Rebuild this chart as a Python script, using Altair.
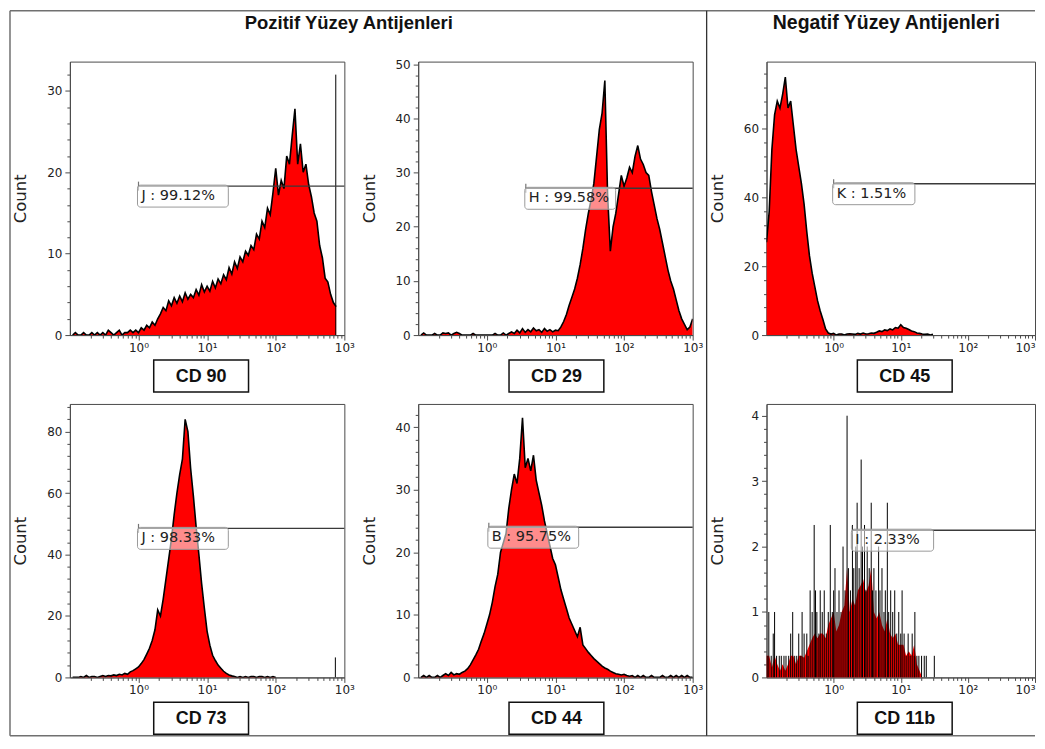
import altair as alt
import pandas as pd

# ---------------- data ----------------
BIN_STEP = 0.04  # histogram channel width, in decades of the log axis

# CD 90 : counts per channel, first channel at 10^-0.96
cd90_start = -0.96
cd90_counts = [
    0, 0.3, 0, 0, 0.3, 0, 0, 0.3, 0, 0.3,
    0, 0.3, 0, 0.6, 0.3, 0, 0.3, 0.6, 0, 0.3,
    0.3, 0.6, 0.3, 0.6, 0.3, 0.9, 0.6, 1.2, 0.9, 1.6,
    1.2, 2.0, 2.6, 3.4, 3.0, 4.2, 3.6, 4.6, 3.9, 4.8,
    4.1, 5.2, 4.4, 5.0, 4.6, 5.6, 4.9, 6.2, 5.3, 6.0,
    5.4, 6.6, 5.8, 6.9, 6.3, 7.4, 6.8, 8.3, 7.5, 9.0,
    8.2, 9.6, 9.0, 10.3, 9.8, 11.0, 10.5, 12.4, 11.8, 14.0,
    13.2, 15.6, 14.8, 17.5, 20.5, 17.2, 19.0, 18.0, 22.0, 21.0,
    24.5, 27.8, 21.0, 23.5, 20.0, 21.0, 18.5, 17.0, 15.0, 14.0,
    11.0, 9.5, 7.0, 6.5, 5.0, 4.0, 3.5,
]
cd90_spike_x = [750]
cd90_spike_count = [32]

# CD 29
cd29_start = -0.96
cd29_counts = [
    0, 0.4, 0, 0, 0, 0.3, 0, 0, 0.4, 0.3,
    0.4, 0, 0.3, 0.5, 0.3, 0, 0, 0, 0, 0.3,
    0, 0, 0, 0, 0, 0, 0, 0.3, 0, 0,
    0.4, 0, 0.3, 0.6, 0.3, 0.9, 0.4, 1.2, 0.5, 1.0,
    0.6, 1.3, 0.8, 1.0, 0.5, 1.2, 0.7, 1.0, 0.6, 0.9,
    0.8, 1.5, 2.5, 3.8, 5.5, 7.0, 8.5, 10.5, 13.0, 16.0,
    19.5, 22.5, 25.0, 28.0, 33.0, 38.0, 41.0, 47.0, 26.0, 15.5,
    20.0, 22.5, 26.0, 29.5, 27.5, 29.0, 31.0, 30.0, 33.0, 35.0,
    32.5, 31.5, 30.0, 29.5, 26.5, 24.0, 21.5, 19.5, 17.0, 14.5,
    12.0, 10.0, 8.5, 6.5, 4.5, 3.0, 2.0, 1.0, 1.5, 3.0,
]

# CD 45
cd45_start = -1.00
cd45_counts = [
    27, 36, 54, 64, 68, 66, 70, 75, 66, 68,
    61, 54, 49, 44, 38, 30, 23, 18, 14, 10,
    7, 4.5, 1.8, 0.6, 0.3, 0.5, 0, 0.3, 0.3, 0,
    0.3, 0.4, 0.3, 0.2, 0.5, 0.3, 0.6, 0.3, 0.4, 0.6,
    0.5, 0.8, 1.2, 1.0, 1.5, 1.3, 1.8, 1.5, 2.2, 2.0,
    3.0, 2.2, 2.0, 1.6, 1.2, 1.0, 0.6, 0.5, 0.3, 0.2,
    0.3, 0, 0.2,
]

# CD 73
cd73_start = -0.96
cd73_counts = [
    0, 0, 0, 0.3, 0, 0.6, 0, 0.3, 0.3, 0,
    0.3, 0.6, 0.3, 0.6, 0.5, 0.8, 0.6, 1.0, 0.8, 1.3,
    1.0, 1.8, 2.2, 2.8, 3.4, 4.5, 5.8, 7.6, 9.5, 12.0,
    15.5, 22.0, 20.0, 25.5, 32.0, 38.5, 45.0, 53.0, 60.0, 66.0,
    71.0, 84.0, 80.0, 68.0, 59.0, 49.0, 40.0, 30.5, 22.5, 15.0,
    10.5, 7.2, 5.5, 4.0, 3.0, 2.0, 1.3, 0.8, 0.5, 0.3,
    0, 0.3, 0, 0.3, 0, 0.3, 0.3, 0, 0.3, 0.3,
    0, 0.3, 0, 0.3, 0,
]
cd73_spike_x = [740]
cd73_spike_count = [6.5]

# CD 44
cd44_start = -0.96
cd44_counts = [
    0, 0.3, 0, 0.3, 0, 0, 0.3, 0, 0.3, 0.6,
    0.3, 0.8, 0.4, 0.6, 0.5, 0.8, 1.0, 1.4, 2.0, 2.8,
    3.6, 4.5, 5.8, 7.0, 8.5, 10.0, 12.0, 14.5, 16.5, 20.0,
    21.5, 23.0, 27.0, 30.0, 32.5, 31.0, 35.0, 41.5, 33.5, 35.0,
    33.0, 35.5, 31.5, 29.5, 27.5, 25.0, 23.0, 21.0, 19.0, 18.0,
    16.0, 14.0, 12.5, 11.0, 9.5, 8.5, 7.5, 6.5, 8.0, 5.2,
    4.6, 4.0, 3.5, 3.0, 2.6, 2.2, 1.8, 1.5, 1.3, 1.0,
    0.8, 0.6, 0.5, 0.4, 0.5, 0.3, 0.2, 0.3, 0, 0.3,
    0, 0.3, 0, 0, 0.3, 0, 0, 0, 0.3, 0,
    0, 0.3, 0, 0.3, 0, 0.3, 0, 0.3, 0, 0,
]

# CD 11b : red filled part and the black single-channel spikes
cd11b_start = -1.00
cd11b_counts = [
    0.33, 0.33, 0.15, 0.33, 0.2, 0.1, 0.2, 0.1, 0.2, 0.33,
    0.33, 0.2, 0.33, 0.33, 0.3, 0.4, 0.5, 0.6, 0.67, 0.6,
    0.67, 0.67, 0.6, 0.8, 0.9, 1.0, 0.7, 0.8, 1.0, 1.1,
    1.67, 1.0, 1.2, 1.1, 1.33, 1.4, 1.5, 1.3, 1.4, 1.67,
    1.0, 0.9, 1.0, 0.8, 0.7, 0.9, 0.67, 0.6, 0.67, 0.5,
    0.5, 0.5, 0.33, 0.4, 0.33, 0.5, 0.2, 0.1, 0,
]
cd11b_spike_exp = [
    -0.99, -0.966, -0.93, -0.90, -0.88, -0.85, -0.81, -0.78, -0.74, -0.71,
    -0.67, -0.64, -0.61, -0.58, -0.55, -0.52, -0.49, -0.47, -0.44, -0.40,
    -0.38, -0.35, -0.32, -0.29, -0.27, -0.25, -0.22, -0.20, -0.17, -0.14,
    -0.11, -0.08, -0.05, -0.02, 0.00, 0.02, 0.05, 0.08, 0.11, 0.14,
    0.17, 0.20, 0.22, 0.25, 0.28, 0.30, 0.33, 0.35, 0.38, 0.41,
    0.43, 0.46, 0.48, 0.50, 0.53, 0.56, 0.58, 0.60, 0.63, 0.67,
    0.69, 0.72, 0.75, 0.77, 0.80, 0.82, 0.85, 0.88, 0.91, 0.94,
    0.97, 1.00, 1.02, 1.05, 1.08, 1.11, 1.14, 1.17, 1.20, 1.21,
    1.24, 1.27, 1.31, 1.35, 1.38, 1.50,
]
cd11b_spike_count = [
    0.33, 1.0, 0.33, 0.67, 1.0, 0.33, 0.33, 0.33, 0.33, 0.33,
    0.33, 0.67, 1.0, 0.33, 0.33, 0.67, 0.33, 1.0, 0.67, 0.67,
    0.33, 1.33, 1.0, 2.33, 1.33, 1.0, 0.67, 1.33, 1.0, 1.33,
    0.67, 1.0, 2.33, 1.0, 1.33, 1.67, 1.0, 1.33, 1.0, 2.0,
    1.33, 4.0, 1.67, 1.33, 2.33, 1.67, 2.0, 2.67, 1.67, 3.33,
    2.0, 2.33, 1.33, 2.0, 1.67, 2.67, 1.33, 1.67, 1.33, 2.0,
    1.33, 1.67, 1.0, 1.33, 2.67, 1.0, 1.33, 1.0, 1.33, 0.67,
    1.0, 0.67, 1.33, 0.67, 0.33, 0.67, 0.33, 0.67, 0.33, 1.0,
    0.33, 0.33, 0.33, 0.33, 0.33, 0.33,
]

# gates: start of the gate, gate height, label
gate_x = {"CD 90": 1.0, "CD 29": 3.7, "CD 45": 1.0, "CD 73": 1.0, "CD 44": 1.07, "CD 11b": 1.9}
gate_y = {"CD 90": 18.3, "CD 29": 27.1, "CD 45": 44.0, "CD 73": 48.5, "CD 44": 24.0, "CD 11b": 2.25}
gate_label = {"CD 90": "J : 99.12%", "CD 29": "H : 99.58%", "CD 45": "K : 1.51%",
              "CD 73": "J : 98.33%", "CD 44": "B : 95.75%", "CD 11b": "I : 2.33%"}

# y axis: top of the axis, labelled step, minor step
y_top = {"CD 90": 33.6, "CD 29": 50.5, "CD 45": 79.5, "CD 73": 89.0, "CD 44": 43.7, "CD 11b": 4.18}
y_major = {"CD 90": 10, "CD 29": 10, "CD 45": 20, "CD 73": 20, "CD 44": 10, "CD 11b": 1}
y_minor = {"CD 90": 2, "CD 29": 2, "CD 45": 4, "CD 73": 4, "CD 44": 2, "CD 11b": 0.2}

title_left = "Pozitif Yüzey Antijenleri"
title_right = "Negatif Yüzey Antijenleri"

# ---------------- styling ----------------
FONT = "DejaVu Sans"
BOLD = "Liberation Sans"
AX = "#4a4a4a"
RED = "#ff0000"
PANEL_W = 275
PANEL_W3 = 269
PANEL_H = 274

X_TICKS = [round(m * 10.0 ** e, 6) for e in (-1, 0, 1, 2) for m in range(1, 10)][1:] + [1000]
MAJOR_X_TEST = "datum.value == 1 || datum.value == 10 || datum.value == 100 || datum.value == 1000"
X_LABEL_EXPR = ("datum.value == 1 ? '10\u2070' : datum.value == 10 ? '10\u00b9' : "
                "datum.value == 100 ? '10\u00b2' : datum.value == 1000 ? '10\u00b3' : ''")


def x_enc(flush):
    return alt.X(
        "x:Q",
        scale=alt.Scale(type="log", domain=[0.1, 1000], nice=False),
        axis=alt.Axis(
            values=X_TICKS, labelExpr=X_LABEL_EXPR, title=None,
            tickSize={"condition": {"test": MAJOR_X_TEST, "value": 5}, "value": 3},
            tickColor=AX, domainColor=AX, labelColor="#222", labelFont=FONT,
            labelFontSize=12, labelPadding=2, labelOverlap=False, labelFlush=flush,
            grid=False,
        ),
    )


def y_enc(name):
    top, major, minor = y_top[name], y_major[name], y_minor[name]
    vals = [round(i * minor, 3) for i in range(int(top / minor + 1e-9) + 1)]
    test = f"abs(datum.value / {major} - round(datum.value / {major})) < 0.001"
    return alt.Y(
        "count:Q",
        scale=alt.Scale(domain=[0, top], nice=False, zero=True),
        axis=alt.Axis(
            values=vals, labelExpr=f"{test} ? format(datum.value, 'd') : ''",
            tickSize={"condition": {"test": test, "value": 5}, "value": 3},
            title="Count", titleFont=FONT, titleFontSize=16.5, titleFontWeight="normal",
            titleColor="#222", titleX=-49, titleY=PANEL_H / 2, titleBaseline="middle",
            titleAlign="center",
            tickColor=AX, domainColor=AX, labelColor="#222", labelFont=FONT,
            labelFontSize=12, labelPadding=3, labelOverlap=False, grid=False,
        ),
    )


def hist_frame(start, counts):
    return pd.DataFrame({
        "x": [10 ** (start + i * BIN_STEP) for i in range(len(counts))],
        "count": counts,
    })


def panel(name, start, counts, box_x, col3=False, spikes=None, outline=True, extra=()):
    X = x_enc(col3)
    Y = y_enc(name)
    hist = alt.Chart(hist_frame(start, counts))
    layers = [hist.mark_area(color=RED, clip=True, interpolate="linear").encode(x=X, y=Y)]
    if outline:
        layers.append(hist.mark_line(color="black", strokeWidth=1.6, clip=True).encode(x=X, y=Y))
    if spikes is not None:
        sx, sc = spikes
        sdf = pd.DataFrame({"x": sx, "count": [0] * len(sx), "top": sc})
        layers.append(
            alt.Chart(sdf).mark_rule(color="black", strokeWidth=1, clip=True)
            .encode(x=X, y=Y, y2=alt.Y2("top"))
        )
    text = gate_label[name]
    bw = 8.6 * len(text) + 4
    g = alt.Chart(pd.DataFrame({"x": [gate_x[name]], "x2": [1000], "count": [gate_y[name]], "label": [text]}))
    layers += [
        g.mark_rule(color="#3a3a3a", strokeWidth=1.4).encode(x=X, x2=alt.X2("x2"), y=Y),
        g.mark_tick(orient="vertical", size=9, thickness=1.2, color="#3a3a3a").encode(x=X, y=Y),
        g.mark_rect(fill="white", fillOpacity=0.55, stroke="#9a9a9a", strokeWidth=1,
                    cornerRadius=3, xOffset=-1, x2Offset=bw, yOffset=-1, y2Offset=21)
        .encode(x=X, x2=alt.X2("x"), y=Y, y2=alt.Y2("count")),
        g.mark_text(align="left", baseline="middle", dx=3, dy=10, font=FONT, fontSize=14.5,
                    color="#222").encode(x=X, y=Y, text="label:N"),
    ]
    d = alt.Chart(pd.DataFrame({"k": [0]}))
    layers += [
        d.mark_rect(fill="white", stroke="#111", strokeWidth=1.5).encode(
            x=alt.value(box_x), x2=alt.value(box_x + 95),
            y=alt.value(PANEL_H + 25), y2=alt.value(PANEL_H + 57)),
        d.mark_text(text=name, font=BOLD, fontSize=18, fontWeight="bold", color="#111",
                    align="center", baseline="middle").encode(
            x=alt.value(box_x + 47.5), y=alt.value(PANEL_H + 42)),
    ]
    layers += list(extra)
    return alt.layer(*layers).properties(width=PANEL_W3 if col3 else PANEL_W, height=PANEL_H)


# outer frame, divider and the two group titles (placed relative to the first panel)
FRAME_TOP, FRAME_BOTTOM, FRAME_LEFT, FRAME_RIGHT = -51, 675.5, -60, 967
deco = alt.Chart(pd.DataFrame({"k": [0]}))
frame_layers = [
    deco.mark_text(text=title_left, font=BOLD, fontSize=18.5, fontWeight="bold", color="#111",
                   align="center", baseline="middle").encode(x=alt.value(279.5), y=alt.value(-39)),
    deco.mark_text(text=title_right, font=BOLD, fontSize=19.5, fontWeight="bold", color="#111",
                   align="center", baseline="middle").encode(x=alt.value(818), y=alt.value(-39)),
    deco.mark_rule(color="#707070", strokeWidth=1.5).encode(
        x=alt.value(FRAME_LEFT), x2=alt.value(FRAME_RIGHT), y=alt.value(FRAME_TOP)),
    deco.mark_rule(color="#707070", strokeWidth=1.5).encode(
        x=alt.value(FRAME_LEFT), y=alt.value(FRAME_TOP), y2=alt.value(FRAME_BOTTOM)),
    deco.mark_rule(color="#707070", strokeWidth=1.5).encode(
        x=alt.value(FRAME_LEFT), x2=alt.value(FRAME_RIGHT), y=alt.value(FRAME_BOTTOM)),
    deco.mark_rule(color="#333333", strokeWidth=1.3).encode(
        x=alt.value(638), y=alt.value(FRAME_TOP), y2=alt.value(FRAME_BOTTOM)),
]

p90 = panel("CD 90", cd90_start, cd90_counts, 84, spikes=(cd90_spike_x, cd90_spike_count), extra=frame_layers)
p29 = panel("CD 29", cd29_start, cd29_counts, 91)
p45 = panel("CD 45", cd45_start, cd45_counts, 91, col3=True)
p73 = panel("CD 73", cd73_start, cd73_counts, 84, spikes=(cd73_spike_x, cd73_spike_count))
p44 = panel("CD 44", cd44_start, cd44_counts, 91)
p11b = panel("CD 11b", cd11b_start, cd11b_counts, 91, col3=True,
             spikes=([10 ** e for e in cd11b_spike_exp], cd11b_spike_count), outline=False)

chart = (
    alt.concat(p90, p29, p45, p73, p44, p11b, columns=3, align="each",
               spacing={"row": 69, "column": 74}, bounds="flush")
    .properties(padding={"left": 0, "top": 0, "right": 0, "bottom": 0}, background="white")
    .configure_view(stroke=AX, strokeWidth=1)
)

chart.save("out.html", embed_options={"renderer": "svg", "actions": False})
